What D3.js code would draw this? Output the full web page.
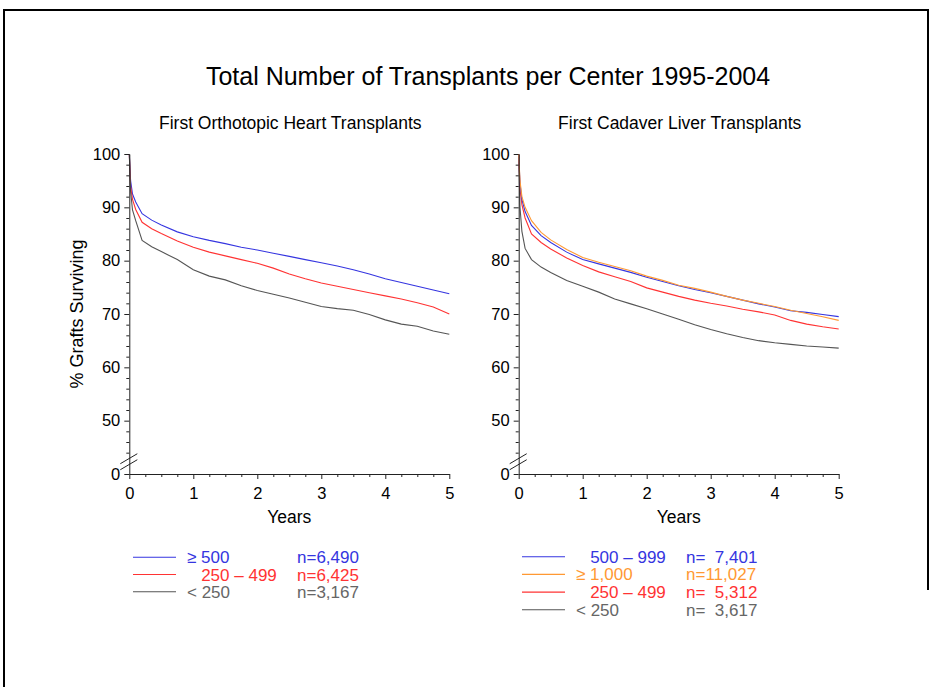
<!DOCTYPE html>
<html>
<head>
<meta charset="utf-8">
<script src="https://cdn.jsdelivr.net/npm/d3@7"></script>
<style>
  html, body { margin: 0; padding: 0; background: #fff; }
  svg { display: block; font-family: "Liberation Sans", Arial, sans-serif; }
  text { white-space: pre; }
</style>
</head>
<body>
<svg id="chart" width="932" height="687"></svg>
<script>
// ---------- DATA ----------
const title = "Total Number of Transplants per Center 1995-2004";
const panelTitles = ["First Orthotopic Heart Transplants", "First Cadaver Liver Transplants"];
const xTickLabels = [0, 1, 2, 3, 4, 5];
const yTickLabels = ["0", "50", "60", "70", "80", "90", "100"];
const yTickValues = [40, 50, 60, 70, 80, 90, 100]; // "0" sits at the axis break

const years = [0, 0.02, 0.05, 0.1, 0.2, 0.35, 0.5, 0.75, 1, 1.25, 1.5, 1.75, 2,
               2.25, 2.5, 2.75, 3, 3.25, 3.5, 3.75, 4, 4.25, 4.5, 4.75, 5];

// Heart panel
const heartGE500   = [100, 95.0, 92.5, 91.0, 88.8, 87.6, 86.7, 85.4, 84.5, 83.8, 83.2, 82.5, 82.0,
                      81.4, 80.8, 80.2, 79.6, 79.0, 78.3, 77.5, 76.6, 75.9, 75.2, 74.5, 73.8];
const heart250_499 = [100, 94.0, 91.5, 89.6, 87.2, 86.0, 85.1, 83.7, 82.5, 81.6, 80.9, 80.2, 79.5,
                      78.6, 77.5, 76.6, 75.8, 75.2, 74.6, 74.0, 73.4, 72.8, 72.1, 71.3, 70.0];
const heartLT250   = [100, 93.0, 89.5, 87.5, 83.8, 82.6, 81.7, 80.2, 78.3, 77.1, 76.4, 75.3, 74.4,
                      73.7, 73.0, 72.2, 71.4, 71.0, 70.7, 69.9, 68.9, 68.1, 67.7, 66.8, 66.2];

// Liver panel
const liver500_999 = [100, 94.5, 91.5, 89.2, 86.6, 84.7, 83.4, 81.6, 80.2, 79.4, 78.6, 77.8, 76.9,
                      76.1, 75.3, 74.6, 74.0, 73.3, 72.6, 71.9, 71.3, 70.6, 70.3, 69.9, 69.5];
const liverGE1000  = [100, 95.0, 92.0, 90.0, 87.5, 85.3, 83.9, 82.1, 80.6, 79.7, 78.9, 78.1, 77.1,
                      76.3, 75.4, 74.8, 74.1, 73.3, 72.6, 72.0, 71.4, 70.7, 70.1, 69.5, 68.8];
const liver250_499 = [100, 93.5, 90.5, 88.0, 85.0, 83.4, 82.2, 80.5, 79.1, 77.9, 77.0, 76.1, 74.9,
                      74.1, 73.3, 72.6, 72.0, 71.5, 70.9, 70.4, 69.8, 68.8, 68.1, 67.6, 67.2];
const liverLT250   = [100, 90.0, 85.5, 82.3, 80.2, 78.8, 77.8, 76.3, 75.2, 74.1, 72.8, 71.9, 71.0,
                      70.0, 69.0, 68.0, 67.1, 66.3, 65.6, 65.0, 64.6, 64.3, 64.0, 63.8, 63.6];

const heartLabels = ["\u2265 500", "   250 \u2013 499", "< 250"];
const heartCounts = ["n=6,490", "n=6,425", "n=3,167"];
const liverLabels = ["   500 \u2013 999", "\u2265 1,000", "   250 \u2013 499", "< 250"];
const liverCounts = ["n=  7,401", "n=11,027", "n=  5,312", "n=  3,617"];

// ---------- STYLE ----------
const C = { blue: "#3535e0", red: "#ff3333", grey: "#555555", greyText: "#666666", orange: "#ff9933" };

const panels = [
  { title: panelTitles[0], x0: 129.3, showYLabel: true,
    series: [
      { vals: heartGE500,   line: C.blue, text: C.blue,     label: heartLabels[0], n: heartCounts[0] },
      { vals: heart250_499, line: C.red,  text: C.red,      label: heartLabels[1], n: heartCounts[1] },
      { vals: heartLT250,   line: C.grey, text: C.greyText, label: heartLabels[2], n: heartCounts[2] }
    ],
    legend: { lineX: 133, labelX: 187, nX: 297, y0: 557.3, dy: 17.2 } },
  { title: panelTitles[1], x0: 518.7, showYLabel: false,
    series: [
      { vals: liverLT250,   line: C.grey,   text: C.greyText, label: liverLabels[3], n: liverCounts[3], order: 3 },
      { vals: liver250_499, line: C.red,    text: C.red,      label: liverLabels[2], n: liverCounts[2], order: 2 },
      { vals: liver500_999, line: C.blue,   text: C.blue,     label: liverLabels[0], n: liverCounts[0], order: 0 },
      { vals: liverGE1000,  line: C.orange, text: C.orange,   label: liverLabels[1], n: liverCounts[1], order: 1 }
    ],
    legend: { lineX: 522, labelX: 576, nX: 686, y0: 556.7, dy: 17.7 } }
];

const svg = d3.select("#chart");

// frame
svg.append("path").attr("d", "M4,687 L4,10 L928,10 L928,590")
  .attr("fill", "none").attr("stroke", "#000").attr("stroke-width", 2);

svg.append("text").attr("x", 488).attr("y", 85).attr("text-anchor", "middle")
  .attr("font-size", 25).attr("fill", "#000").text(title);

const yScale = d3.scaleLinear().domain([40, 100]).range([474, 154]);
const minorY = d3.range(44, 100, 2).filter(v => v % 10 !== 0);

panels.forEach(p => {
  const x = d3.scaleLinear().domain([0, 5]).range([p.x0, p.x0 + 320]);
  const g = svg.append("g");

  g.append("text").attr("x", p.x0 + 161).attr("y", 129).attr("text-anchor", "middle")
    .attr("font-size", 17.5).attr("fill", "#000").text(p.title);

  // curves
  const line = d3.line().x((d, i) => x(years[i])).y(d => yScale(d));
  p.series.forEach(s => {
    g.append("path").datum(s.vals).attr("d", line)
      .attr("fill", "none").attr("stroke", s.line).attr("stroke-width", 1.1);
  });

  // y axis
  const yAxis = d3.axisLeft(yScale).tickValues(yTickValues)
    .tickFormat((d, i) => yTickLabels[i]).tickSize(5).tickSizeOuter(0).tickPadding(4);
  const ya = g.append("g").attr("transform", `translate(${p.x0},0)`).call(yAxis);
  ya.selectAll("text").attr("font-size", 16.5).attr("font-family", "Liberation Sans, Arial, sans-serif").attr("fill", "#000");
  ya.selectAll("path, line").attr("stroke", "#222");
  const yMinor = d3.axisLeft(yScale).tickValues(minorY).tickSize(3).tickSizeOuter(0).tickFormat("");
  const ym = g.append("g").attr("transform", `translate(${p.x0},0)`).call(yMinor);
  ym.select("path").remove();
  ym.selectAll("line").attr("stroke", "#222");

  // x axis
  const xAxis = d3.axisBottom(x).tickValues(xTickLabels).tickFormat(d3.format("d"))
    .tickSize(5).tickSizeOuter(0).tickPadding(8);
  const xa = g.append("g").attr("transform", `translate(0,${yScale(40)})`).call(xAxis);
  xa.selectAll("text").attr("font-size", 16.5).attr("font-family", "Liberation Sans, Arial, sans-serif").attr("fill", "#000");
  xa.selectAll("path, line").attr("stroke", "#222");
  const xMinor = d3.axisBottom(x).tickValues(d3.range(0.25, 5, 0.25).filter(v => v % 1 !== 0))
    .tickSize(3).tickSizeOuter(0).tickFormat("");
  const xm = g.append("g").attr("transform", `translate(0,${yScale(40)})`).call(xMinor);
  xm.select("path").remove();
  xm.selectAll("line").attr("stroke", "#222");

  // axis break marks
  const yb = yScale(42.3);
  [-3, 3].forEach(off => {
    g.append("line").attr("x1", p.x0 - 9).attr("y1", yb + 5 + off)
      .attr("x2", p.x0 + 8).attr("y2", yb - 5 + off)
      .attr("stroke", "#222").attr("stroke-width", 1);
  });

  g.append("text").attr("x", p.x0 + 160).attr("y", 523).attr("text-anchor", "middle")
    .attr("font-size", 17.5).attr("fill", "#000").text("Years");

  if (p.showYLabel) {
    g.append("text").attr("transform", `translate(83,${yScale(70)}) rotate(-90)`)
      .attr("text-anchor", "middle").attr("font-size", 18).attr("fill", "#000")
      .text("% Grafts Surviving");
  }

  // legend
  const L = p.legend;
  p.series.forEach((s, i) => {
    const r = s.order !== undefined ? s.order : i;
    const yy = L.y0 + r * L.dy;
    g.append("line").attr("x1", L.lineX).attr("x2", L.lineX + 43).attr("y1", yy).attr("y2", yy)
      .attr("stroke", s.line).attr("stroke-width", 1.1);
    g.append("text").attr("x", L.labelX).attr("y", yy + 6).attr("font-size", 17)
      .attr("fill", s.text).text(s.label);
    g.append("text").attr("x", L.nX).attr("y", yy + 6).attr("font-size", 17)
      .attr("fill", s.text).text(s.n);
  });
});
</script>
</body>
</html>
